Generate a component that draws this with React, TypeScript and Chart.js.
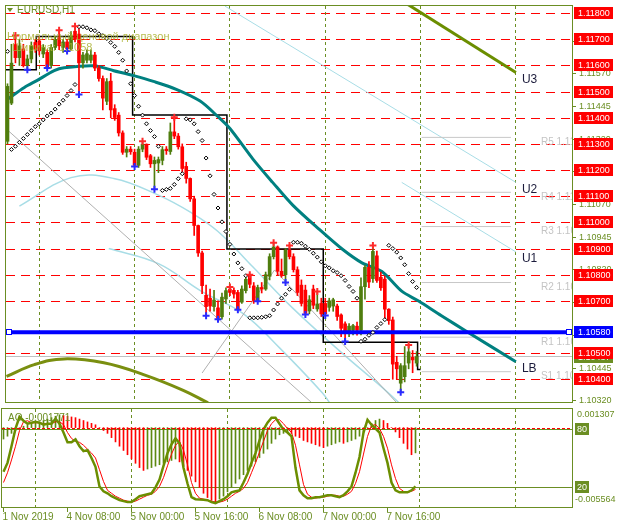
import React, { useEffect, useRef } from "react";
import { Chart, registerables } from "chart.js";

Chart.register(...registerables);

// H1 bars; bar index 0 = 4 Nov 2019 00:00, bars -8..-1 = 1 Nov 16:00..23:00
const FIRST_BAR = -8;
const OPEN = [
  1.1131, 1.11456, 1.1168, 1.1163, 1.11663, 1.116, 1.11625, 1.11688,
  1.11694, 1.11644, 1.1165, 1.116, 1.11669, 1.11706, 1.11669, 1.1169, 1.11663, 1.11731, 1.1172, 1.1161,
  1.1162, 1.1162, 1.1164, 1.1159, 1.1155, 1.11463, 1.1154, 1.11435, 1.1141, 1.11342, 1.11268, 1.1128,
  1.11268, 1.11218, 1.1128, 1.11299, 1.11255, 1.11224, 1.11227, 1.11237, 1.1128, 1.11271, 1.11346, 1.1133,
  1.11289, 1.11214, 1.11168, 1.1109, 1.10988, 1.10883, 1.10721, 1.1071, 1.10678, 1.10673, 1.10639, 1.10707,
  1.10745, 1.1074, 1.10732, 1.10695, 1.10739, 1.10794, 1.10757, 1.10701, 1.10751, 1.10745, 1.10794, 1.10869,
  1.10906, 1.10813, 1.108, 1.10894, 1.10869, 1.10819, 1.1076, 1.10741, 1.10661, 1.10745, 1.10669, 1.1069,
  1.1069, 1.10675, 1.1068, 1.1068, 1.10646, 1.10612, 1.1058, 1.10588, 1.10603, 1.10588, 1.10754, 1.10828,
  1.10785, 1.10872, 1.1079, 1.10783, 1.10668, 1.10627, 1.10465, 1.10385, 1.1041, 1.10462, 1.10484, 1.10462
];
const HIGH = [
  1.1153, 1.11681, 1.11715, 1.117, 1.11681, 1.1164, 1.1169, 1.117,
  1.1171, 1.1168, 1.1166, 1.1168, 1.1171, 1.11735, 1.117, 1.117, 1.1173, 1.1175, 1.1174, 1.1165,
  1.1166, 1.1166, 1.1165, 1.116, 1.1156, 1.1155, 1.1157, 1.1145, 1.1142, 1.1135, 1.1129, 1.1129,
  1.1128, 1.1129, 1.1131, 1.113, 1.1126, 1.1125, 1.1125, 1.1129, 1.1129, 1.1138, 1.11402, 1.1134,
  1.113, 1.1123, 1.1117, 1.111, 1.1099, 1.1089, 1.1076, 1.10745, 1.1074, 1.107, 1.1073, 1.1075,
  1.10753, 1.1075, 1.1074, 1.10757, 1.1079, 1.108, 1.1077, 1.1076, 1.1077, 1.1081, 1.1088, 1.10922,
  1.1091, 1.1086, 1.109, 1.10912, 1.1088, 1.1083, 1.1078, 1.1076, 1.1072, 1.1076, 1.10736, 1.1071,
  1.1071, 1.1071, 1.1071, 1.10688, 1.1065, 1.1062, 1.10613, 1.1061, 1.10619, 1.10788, 1.10835, 1.1085,
  1.10912, 1.1089, 1.1081, 1.10794, 1.1067, 1.10638, 1.10488, 1.1046, 1.10525, 1.10531, 1.1051, 1.10506
];
const LOW = [
  1.113, 1.1145, 1.1161, 1.116, 1.11594, 1.11584, 1.1161, 1.1165,
  1.1164, 1.1163, 1.1159, 1.1159, 1.1166, 1.1166, 1.1165, 1.1165, 1.1166, 1.1169, 1.11489, 1.1159,
  1.1161, 1.1161, 1.1158, 1.1154, 1.1143, 1.1145, 1.114, 1.1139, 1.1133, 1.1126, 1.1125, 1.1126,
  1.11214, 1.1121, 1.1127, 1.1124, 1.1121, 1.11127, 1.1119, 1.1122, 1.1126, 1.1126, 1.1132, 1.1128,
  1.1119, 1.1115, 1.1108, 1.1095, 1.1087, 1.10727, 1.10643, 1.1066, 1.1066, 1.1063, 1.1063, 1.1069,
  1.1072, 1.1071, 1.10666, 1.1069, 1.1073, 1.1075, 1.1069, 1.10698, 1.1073, 1.1074, 1.1078, 1.1086,
  1.108, 1.1079, 1.1077, 1.1086, 1.1081, 1.1072, 1.1068, 1.10648, 1.1065, 1.1067, 1.1066, 1.1064,
  1.10644, 1.1066, 1.1066, 1.10625, 1.10563, 1.10544, 1.10563, 1.1057, 1.10569, 1.1057, 1.10706, 1.1075,
  1.1077, 1.1077, 1.1074, 1.10631, 1.1061, 1.104, 1.104, 1.1035, 1.1039, 1.1044, 1.10425, 1.1045
];
const CLOSE = [
  1.1152, 1.11609, 1.1163, 1.11675, 1.116, 1.11625, 1.11675, 1.11663,
  1.11656, 1.11669, 1.11594, 1.11669, 1.117, 1.11675, 1.1169, 1.11663, 1.11713, 1.117, 1.1161, 1.1164,
  1.11645, 1.1164, 1.1159, 1.1155, 1.11475, 1.11538, 1.1143, 1.11401, 1.11342, 1.11268, 1.1128, 1.1127,
  1.11218, 1.1128, 1.11299, 1.11249, 1.11224, 1.11237, 1.1124, 1.11278, 1.11274, 1.11346, 1.1133, 1.11289,
  1.11206, 1.11168, 1.1109, 1.10988, 1.10883, 1.10758, 1.10678, 1.1068, 1.10703, 1.10633, 1.10714, 1.10739,
  1.10732, 1.10726, 1.1067, 1.10745, 1.10782, 1.10763, 1.10701, 1.10751, 1.10745, 1.108, 1.10869, 1.10906,
  1.10813, 1.108, 1.10894, 1.10869, 1.10819, 1.10732, 1.1069, 1.10652, 1.10704, 1.10683, 1.10688, 1.1065,
  1.1065, 1.107, 1.10704, 1.1064, 1.10595, 1.10582, 1.10603, 1.10605, 1.10588, 1.10754, 1.10828, 1.10772,
  1.10889, 1.10778, 1.1075, 1.10668, 1.10624, 1.10458, 1.1044, 1.10452, 1.10452, 1.10505, 1.10474, 1.10487
];
const SAR = [
  1.11654, 1.11279, 1.11291, 1.11306, 1.11321, 1.11336, 1.11351, 1.11366,
  1.11377, 1.11392, 1.11407, 1.11418, 1.11433, 1.11452, 1.11467, 1.11485, 1.11504, 1.11527, 1.11748, 1.11748,
  1.11744, 1.11736, 1.11733, 1.11721, 1.11714, 1.11703, 1.11688, 1.11673, 1.1165, 1.1162, 1.11579, 1.1153,
  1.11485, 1.11444, 1.1141, 1.11377, 1.11351, 1.11328, 1.11291, 1.11122, 1.11126, 1.1113, 1.11145, 1.11167,
  1.11186, 1.11396, 1.11392, 1.11377, 1.11347, 1.11313, 1.11246, 1.11178, 1.11107, 1.11055, 1.11002, 1.10965,
  1.10916, 1.10879, 1.10845, 1.10823, 1.10796, 1.10635, 1.10635, 1.10635, 1.10637, 1.10639, 1.10643, 1.10665,
  1.10688, 1.1071, 1.10725, 1.10744, 1.10924, 1.10924, 1.1092, 1.10909, 1.10897, 1.10882, 1.10867, 1.10849,
  1.10834, 1.10826, 1.10815, 1.10808, 1.10796, 1.10778, 1.10755, 1.10736, 1.1071, 1.10545, 1.10553, 1.10568,
  1.10579, 1.10598, 1.10613, 1.10628, 1.10912, 1.109, 1.10886, 1.10864, 1.10838, 1.10804, 1.10774, 1.10751
];
const AO = [
  -0.0008, -0.0006, -0.0004, -0.0002, 0.0, 0.0001, 0.0002, 0.0003,
  0.0003, 0.0004, 0.0005, 0.0006, 0.0007, 0.0008, 0.0009, 0.00085, 0.0008, 0.00075, 0.0007, 0.0006,
  0.0005, 0.0004, 0.0003, 0.0002, 0.0, -0.0002, -0.0004, -0.0007, -0.001, -0.0013, -0.0016, -0.0019,
  -0.0022, -0.0025, -0.0028, -0.003, -0.0029, -0.0028, -0.0027, -0.0026, -0.0025, -0.0024, -0.0023, -0.0022,
  -0.0024, -0.0027, -0.003, -0.0034, -0.0038, -0.0042, -0.0046, -0.0049, -0.0051, -0.0052, -0.005, -0.0048,
  -0.0045, -0.0042, -0.0039, -0.0036, -0.0033, -0.003, -0.0027, -0.0024, -0.0021, -0.0018, -0.0015, -0.0011,
  -0.0008, -0.0005, -0.0004, -0.0003, -0.0004, -0.0006, -0.0007, -0.0009, -0.001, -0.0011, -0.0012, -0.0013,
  -0.0014, -0.0013, -0.0012, -0.0011, -0.001, -0.0011, -0.001, -0.0009, -0.0008, -0.0006, -0.0003, 0.0,
  0.0003, 0.0005, 0.0006, 0.0005, 0.0003, 0.0, -0.0003, -0.0007, -0.0011, -0.0015, -0.0019, -0.00177
];
const STOCH_MAIN = [
  36, 45, 62, 80, 92, 88, 85, 86,
  87, 86, 84, 85, 85, 90, 85, 76, 66, 66, 69, 62,
  57, 58, 50, 41, 21, 16, 14, 11, 9, 7, 6, 5,
  5, 8, 11, 12, 13, 14, 20, 28, 42, 55, 64, 70,
  65, 40, 24, 10, 8, 7.6, 7.5, 7, 5, 4, 6, 8,
  11, 15, 16, 17, 25, 34, 45, 55, 68, 79, 86, 91,
  91, 85, 79, 76, 72, 40, 17, 12, 9, 9, 10, 10,
  11, 12, 12, 11, 10, 12, 16, 21, 35, 51, 76, 89,
  84, 80, 76, 60, 45, 25, 17, 15, 15, 15, 17, 21
];
const STOCH_SIGNAL = [
  25, 35, 48, 62, 78, 87, 88, 86,
  86, 86, 85, 85, 85, 87, 87, 84, 76, 70, 67, 66,
  63, 59, 55, 50, 38, 26, 17, 14, 11, 9, 7, 6,
  5, 6, 8, 10, 12, 13, 16, 21, 30, 42, 54, 63,
  67, 58, 43, 25, 14, 9, 8, 7, 6, 5, 5, 6,
  8, 11, 14, 16, 19, 25, 35, 45, 56, 67, 78, 85,
  89, 89, 85, 80, 76, 63, 43, 23, 13, 10, 9, 10,
  10, 11, 12, 12, 11, 11, 13, 16, 24, 36, 54, 72,
  83, 84, 80, 72, 60, 43, 29, 19, 16, 15, 16, 18
];

// up / down fractals
const FRACTAL_UP_BARS = [-6, 5, 9, 26, 34, 48, 53, 59, 63, 70, 84, 93];
const FRACTAL_UP = [1.11715, 1.11735, 1.1175, 1.1131, 1.11402, 1.10753, 1.108, 1.10922, 1.10912, 1.10736, 1.10912, 1.10531];
const FRACTAL_DN_BARS = [-3, 2, 7, 10, 24, 29, 42, 45, 50, 55, 62, 67, 72, 77, 91];
const FRACTAL_DN = [1.11584, 1.1159, 1.11655, 1.11489, 1.11214, 1.11127, 1.10643, 1.1063, 1.10666, 1.10698, 1.1077, 1.10648, 1.10644, 1.10544, 1.1035];

// moving average (teal) with its projection to "LB"
const MA_BARS = [-8, -3.75, -0.5, 3.75, 6.25, 13.75, 18.75, 23.75, 28.75, 34.5, 40.5, 45, 48, 53.75, 58.75, 63.75, 70.5, 76.25, 81.25, 86.25, 91.25, 95.5, 101.25, 108, 120];
const MA_VALUES = [1.11471, 1.11516, 1.11543, 1.1158, 1.11591, 1.11599, 1.1158, 1.11561, 1.11539, 1.11509, 1.11464, 1.11404, 1.11359, 1.11243, 1.11153, 1.11067, 1.10973, 1.10898, 1.10845, 1.10812, 1.10737, 1.10699, 1.10643, 1.10579, 1.10467];

// daily range steps (black)
const STEP_BARS = [-8.5, -0.75, 23.5, 47.25, 71.5, 95.25, 96];
const STEP_LEVELS = [1.11584, 1.11711, 1.11411, 1.10898, 1.10542, 1.10437];

// envelope curves (light blue)
const ENV1_BARS = [-5, 8, 18.75, 30, 38.25, 45, 53.75, 63.75, 76.25, 86.25, 92];
const ENV1_VALUES = [1.11062, 1.11171, 1.11168, 1.11104, 1.11037, 1.10965, 1.1083, 1.10673, 1.105, 1.1037, 1.1029];
const ENV2_BARS = [17.5, 30, 40.75, 51.25, 60.5, 71.25, 74];
const ENV2_VALUES = [1.109, 1.10842, 1.10737, 1.10652, 1.1052, 1.10348, 1.1029];

// channel lines
const U3_BARS = [90, 120];
const U3_VALUES = [1.1186, 1.11573];
const U2_BARS = [46.75, 120];
const U2_VALUES = [1.11827, 1.11153];
const U1_BARS = [91.25, 120];
const U1_VALUES = [1.11153, 1.10887];
const GREY1_BARS = [-8.5, 69];
const GREY1_VALUES = [1.1136, 1.10305];
const GREY2_BARS = [41, 59.25];
const GREY2_VALUES = [1.10424, 1.10818];
const GREY3_BARS = [59.25, 90];
const GREY3_VALUES = [1.10818, 1.1031];

// olive curve bottom-left
const CURVE_BARS = [-8.25, -1.25, 6.25, 16.25, 26.25, 36.25, 42.5];
const CURVE_VALUES = [1.10411, 1.10456, 1.10478, 1.10463, 1.10418, 1.10358, 1.1031];

// pivots
const PIVOT_NAMES = ["R5", "R4", "R3", "R2", "R1", "S1"];
const PIVOT_VALUES = [1.11325, 1.11115, 1.10984, 1.1077, 1.10561, 1.10429];
const PIVOT_FROM = 96.25;
const PIVOT_TO = 118.75;

const LEVELS = [1.118, 1.117, 1.116, 1.115, 1.114, 1.113, 1.112, 1.111, 1.11, 1.109, 1.108, 1.107, 1.105, 1.104];
const AXIS_TICKS = [1.11695, 1.1157, 1.11445, 1.1132, 1.11195, 1.1107, 1.10945, 1.1082, 1.10695, 1.1057, 1.10445, 1.1032];
const BLUE_LEVEL = 1.1058;
const BID = 1.10487;
const GRID_BARS = [0, 24, 48, 72, 96, 120];
const TIME_BARS = [-8, 8, 24, 40, 56, 72, 88];
const TIME_LABELS = ["1 Nov 2019", "4 Nov 08:00", "5 Nov 00:00", "5 Nov 16:00", "6 Nov 08:00", "7 Nov 00:00", "7 Nov 16:00"];
const AO_MAX = 0.001307;
const AO_MIN = -0.005564;
const AO_LAST = -0.001771;

const X_MIN = -8.375;
const X_MAX = 134.125;
const Y_MIN = 1.103131;
const Y_MAX = 1.118274;

const OLIVE = "#6b8e23";
const BULL = "#4f7d0e";
const BEAR = "#ff0000";
const FONT = '"Liberation Sans", Arial, sans-serif';

const bars = OPEN.map((_, i) => FIRST_BAR + i);
const pts = (xs: number[], ys: number[]) => xs.map((x, i) => ({ x, y: ys[i] }));

function mainPlugin() {
  return {
    id: "mainDecor",
    beforeDatasetsDraw(chart: any) {
      const { ctx, chartArea: a, scales } = chart;
      const x = scales.x, y = scales.y;
      ctx.save();
      ctx.beginPath();
      ctx.rect(a.left, a.top, a.right - a.left, a.bottom - a.top);
      ctx.clip();
      ctx.lineWidth = 1;
      ctx.strokeStyle = "#ff0000";
      ctx.setLineDash([9, 6]);
      LEVELS.forEach((v) => {
        const py = Math.round(y.getPixelForValue(v)) + 0.5;
        ctx.beginPath();
        ctx.moveTo(a.left, py);
        ctx.lineTo(a.right, py);
        ctx.stroke();
      });
      ctx.strokeStyle = OLIVE;
      ctx.setLineDash([3, 3]);
      GRID_BARS.forEach((b) => {
        const px = Math.floor(x.getPixelForValue(b)) + 0.5;
        ctx.beginPath();
        ctx.moveTo(px, a.top);
        ctx.lineTo(px, a.bottom);
        ctx.stroke();
      });
      ctx.restore();
    },
    afterDraw(chart: any) {
      const { ctx, chartArea: a, scales } = chart;
      const x = scales.x, y = scales.y;
      ctx.save();
      // frame
      ctx.strokeStyle = OLIVE;
      ctx.lineWidth = 1;
      ctx.strokeRect(a.left - 0.5, a.top - 0.5, a.right - a.left + 1, a.bottom - a.top + 1);

      // labels inside plot (clipped)
      ctx.save();
      ctx.beginPath();
      ctx.rect(a.left, a.top, a.right - a.left, a.bottom - a.top);
      ctx.clip();
      ctx.font = `10px ${FONT}`;
      ctx.textBaseline = "middle";
      ctx.fillStyle = "#c4c4c4";
      PIVOT_VALUES.forEach((v, i) => {
        ctx.fillText(`${PIVOT_NAMES[i]} ${v.toFixed(5)}`, x.getPixelForValue(PIVOT_TO) + 30, y.getPixelForValue(v) + 5);
      });
      ctx.fillStyle = "#1c1c3c";
      ctx.font = `12px ${FONT}`;
      const tag = (t: string, b: number, v: number) => ctx.fillText(t, x.getPixelForValue(b) + 6, y.getPixelForValue(v) + 7);
      tag("U3", U3_BARS[1], U3_VALUES[1]);
      tag("U2", U2_BARS[1], U2_VALUES[1]);
      tag("U1", U1_BARS[1], U1_VALUES[1]);
      tag("LB", MA_BARS[MA_BARS.length - 1], MA_VALUES[MA_VALUES.length - 1]);
      // title
      ctx.fillStyle = OLIVE;
      ctx.beginPath();
      ctx.moveTo(7, 8);
      ctx.lineTo(13, 8);
      ctx.lineTo(10, 12);
      ctx.closePath();
      ctx.fill();
      ctx.font = `10px ${FONT}`;
      ctx.fillText("EURUSD,H1", 17, 10);
      ctx.fillStyle = "rgba(170,178,50,0.85)";
      ctx.font = `11px ${FONT}`;
      ctx.fillText("Нормальный ценовой диапазон", 7, 37);
      ctx.fillText("Ширина: 1.1058", 12, 48);
      // blue line anchors
      const by = Math.round(y.getPixelForValue(BLUE_LEVEL));
      ctx.fillStyle = "#ffffff";
      ctx.strokeStyle = "#0000ff";
      ctx.lineWidth = 1;
      [a.left + 3, a.right - 3].forEach((cx) => {
        ctx.fillRect(cx - 3, by - 3, 6, 6);
        ctx.strokeRect(cx - 2.5, by - 2.5, 5, 5);
      });
      ctx.restore();

      // right axis
      ctx.font = `9px ${FONT}`;
      ctx.textBaseline = "middle";
      const ax = a.right + 1;
      ctx.strokeStyle = OLIVE;
      ctx.fillStyle = OLIVE;
      AXIS_TICKS.forEach((v) => {
        const py = Math.round(y.getPixelForValue(v)) + 0.5;
        ctx.beginPath();
        ctx.moveTo(ax, py);
        ctx.lineTo(ax + 3, py);
        ctx.stroke();
        ctx.fillText(v.toFixed(5), ax + 6, py);
      });
      const box = (v: number, fill: string, text: string) => {
        const py = Math.round(y.getPixelForValue(v));
        ctx.fillStyle = fill;
        ctx.fillRect(ax + 1, py - 6, 39, 12);
        ctx.fillStyle = "#ffffff";
        ctx.fillText(text, ax + 5, py + 0.5);
      };
      box(BID, OLIVE, BID.toFixed(5));
      LEVELS.forEach((v) => box(v, "#ff0000", v.toFixed(5)));
      box(BLUE_LEVEL, "#0000ff", BLUE_LEVEL.toFixed(5));
      ctx.restore();
    },
  };
}

function indPlugin() {
  return {
    id: "indDecor",
    beforeDatasetsDraw(chart: any) {
      const { ctx, chartArea: a, scales } = chart;
      const x = scales.x, ys = scales.ys;
      ctx.save();
      ctx.lineWidth = 1;
      ctx.strokeStyle = OLIVE;
      ctx.setLineDash([3, 3]);
      GRID_BARS.forEach((b) => {
        const px = Math.floor(x.getPixelForValue(b)) + 0.5;
        ctx.beginPath();
        ctx.moveTo(px, a.top);
        ctx.lineTo(px, a.bottom);
        ctx.stroke();
      });
      ctx.setLineDash([]);
      [80, 20].forEach((v) => {
        const py = Math.round(ys.getPixelForValue(v)) + 0.5;
        ctx.beginPath();
        ctx.moveTo(a.left, py);
        ctx.lineTo(a.right, py);
        ctx.stroke();
      });
      ctx.restore();
    },
    afterDatasetsDraw(chart: any) {
      const { ctx, chartArea: a, scales } = chart;
      const ya = scales.ya;
      ctx.save();
      ctx.strokeStyle = "#ff0000";
      ctx.setLineDash([3, 2]);
      const py = Math.round(ya.getPixelForValue(0)) + 0.5;
      ctx.beginPath();
      ctx.moveTo(a.left, py);
      ctx.lineTo(a.right, py);
      ctx.stroke();
      ctx.restore();
    },
    afterDraw(chart: any) {
      const { ctx, chartArea: a, scales } = chart;
      const x = scales.x, ys = scales.ys;
      ctx.save();
      ctx.strokeStyle = OLIVE;
      ctx.lineWidth = 1;
      ctx.strokeRect(a.left - 0.5, a.top - 0.5, a.right - a.left + 1, a.bottom - a.top + 1);
      ctx.font = `10px ${FONT}`;
      ctx.textBaseline = "middle";
      ctx.fillStyle = OLIVE;
      ctx.fillText(`AO ${AO_LAST.toFixed(6)}`, 8, a.top + 9);
      const ax = a.right + 1;
      ctx.font = `9px ${FONT}`;
      ctx.fillText(AO_MAX.toFixed(6), ax + 4, a.top + 6);
      ctx.fillText(AO_MIN.toFixed(6), ax + 2, a.bottom - 7);
      [80, 20].forEach((v) => {
        const py = Math.round(ys.getPixelForValue(v));
        ctx.fillStyle = OLIVE;
        ctx.fillRect(ax + 2, py - 6, 14, 12);
        ctx.fillStyle = "#ffffff";
        ctx.fillText(String(v), ax + 4, py + 0.5);
      });
      // time axis
      ctx.fillStyle = OLIVE;
      ctx.font = `10px ${FONT}`;
      TIME_BARS.forEach((b, i) => {
        const px = Math.floor(x.getPixelForValue(b)) + 0.5;
        ctx.beginPath();
        ctx.moveTo(px, a.bottom + 1);
        ctx.lineTo(px, a.bottom + 5);
        ctx.stroke();
        ctx.fillText(TIME_LABELS[i], px - 1, a.bottom + 10);
      });
      ctx.restore();
    },
  };
}

export default function App() {
  const mainRef = useRef<HTMLCanvasElement>(null);
  const indRef = useRef<HTMLCanvasElement>(null);

  useEffect(() => {
    const candleColors = OPEN.map((o, i) => (CLOSE[i] >= o ? BULL : BEAR));
    const line = (data: any[], color: string, width: number, order: number, extra: any = {}) => ({
      type: "line",
      data,
      borderColor: color,
      backgroundColor: color,
      borderWidth: width,
      pointRadius: 0,
      fill: false,
      order,
      ...extra,
    });
    const stepPts: any[] = [];
    STEP_LEVELS.forEach((v, i) => {
      stepPts.push({ x: STEP_BARS[i], y: v });
      stepPts.push({ x: STEP_BARS[i + 1], y: v });
    });
    const pivotSets = PIVOT_VALUES.map((v) =>
      line([{ x: PIVOT_FROM, y: v }, { x: PIVOT_TO, y: v }], "#c8c8c8", 1, 9)
    );

    const main = new Chart(mainRef.current as HTMLCanvasElement, {
      type: "line",
      data: {
        datasets: [
          {
            type: "scatter",
            data: pts(FRACTAL_UP_BARS, FRACTAL_UP),
            pointStyle: "cross",
            pointRadius: 3.5,
            borderWidth: 2,
            borderColor: "#ff2a2a",
            backgroundColor: "#ff2a2a",
            order: 0,
          },
          {
            type: "scatter",
            data: pts(FRACTAL_DN_BARS, FRACTAL_DN),
            pointStyle: "cross",
            pointRadius: 3.5,
            borderWidth: 2,
            borderColor: "#2a2aff",
            backgroundColor: "#2a2aff",
            order: 0,
          },
          {
            type: "scatter",
            data: pts(bars, SAR),
            pointStyle: "rectRot",
            pointRadius: 2,
            borderWidth: 1,
            borderColor: "#000000",
            backgroundColor: "#ffffff",
            order: 1,
          },
          line([{ x: X_MIN, y: BLUE_LEVEL }, { x: X_MAX, y: BLUE_LEVEL }], "#0000ff", 4, 2),
          {
            type: "bar",
            data: bars.map((b, i) => ({ x: b, y: [Math.min(OPEN[i], CLOSE[i]), Math.max(OPEN[i], CLOSE[i])] })),
            backgroundColor: candleColors,
            barThickness: 3,
            minBarLength: 1,
            grouped: false,
            order: 3,
          },
          {
            type: "bar",
            data: bars.map((b, i) => ({ x: b, y: [LOW[i], HIGH[i]] })),
            backgroundColor: candleColors,
            barThickness: 1,
            grouped: false,
            order: 4,
          },
          line(pts(MA_BARS, MA_VALUES), "#008080", 3, 5, { tension: 0.3 }),
          line(stepPts, "#000000", 1.5, 6),
          line([{ x: X_MIN, y: BID }, { x: X_MAX, y: BID }], "#c0c0c0", 1, 7),
          line(pts(U3_BARS, U3_VALUES), "#6b8e00", 3, 8),
          line(pts(CURVE_BARS, CURVE_VALUES), "#7a8f10", 3, 8, { tension: 0.4 }),
          ...pivotSets,
          line(pts(GREY1_BARS, GREY1_VALUES), "#b0b0b0", 1, 10),
          line(pts(GREY2_BARS, GREY2_VALUES), "#b0b0b0", 1, 10),
          line(pts(GREY3_BARS, GREY3_VALUES), "#b0b0b0", 1, 10),
          line(pts(U2_BARS, U2_VALUES), "#a8dde6", 1, 10),
          line(pts(U1_BARS, U1_VALUES), "#a8dde6", 1, 10),
          line(pts(ENV1_BARS, ENV1_VALUES), "#a8dde6", 1.5, 10, { tension: 0.4 }),
          line(pts(ENV2_BARS, ENV2_VALUES), "#a8dde6", 1.5, 10, { tension: 0.4 }),
        ] as any,
      },
      options: {
        responsive: false,
        animation: false,
        events: [],
        layout: { padding: { left: 2, top: 2, right: 47, bottom: 2 } },
        plugins: { legend: { display: false }, tooltip: { enabled: false } },
        scales: {
          x: { type: "linear", min: X_MIN, max: X_MAX, offset: false, display: false, grid: { offset: false } },
          y: { type: "linear", min: Y_MIN, max: Y_MAX, display: false },
        },
      } as any,
      plugins: [mainPlugin()],
    });

    const aoColors = AO.map((v, i) => (i === 0 || v >= AO[i - 1] ? "#5d8a10" : "#ff0000"));
    const ind = new Chart(indRef.current as HTMLCanvasElement, {
      type: "line",
      data: {
        datasets: [
          {
            type: "line",
            data: pts(bars, STOCH_MAIN),
            yAxisID: "ys",
            borderColor: "#6b8e00",
            borderWidth: 2.5,
            pointRadius: 0,
            order: 0,
          },
          {
            type: "line",
            data: pts(bars, STOCH_SIGNAL),
            yAxisID: "ys",
            borderColor: "#ff0000",
            borderWidth: 1,
            pointRadius: 0,
            order: 1,
          },
          {
            type: "bar",
            data: pts(bars, AO),
            yAxisID: "ya",
            backgroundColor: aoColors,
            barThickness: 1,
            grouped: false,
            order: 2,
          },
        ] as any,
      },
      options: {
        responsive: false,
        animation: false,
        events: [],
        layout: { padding: { left: 2, top: 1, right: 47, bottom: 21 } },
        plugins: { legend: { display: false }, tooltip: { enabled: false } },
        scales: {
          x: { type: "linear", min: X_MIN, max: X_MAX, offset: false, display: false, grid: { offset: false } },
          ys: { type: "linear", position: "left", min: 0, max: 100, display: false },
          ya: { type: "linear", position: "right", min: AO_MIN, max: AO_MAX, display: false },
        },
      } as any,
      plugins: [indPlugin()],
    });

    return () => {
      main.destroy();
      ind.destroy();
    };
  }, []);

  return (
    <div style={{ position: "absolute", left: 0, top: 0, width: 619, height: 528, background: "#ffffff" }}>
      <canvas ref={mainRef} width={619} height={408} style={{ position: "absolute", left: 0, top: 0, width: 619, height: 408 }} />
      <canvas ref={indRef} width={619} height={120} style={{ position: "absolute", left: 0, top: 408, width: 619, height: 120 }} />
    </div>
  );
}
